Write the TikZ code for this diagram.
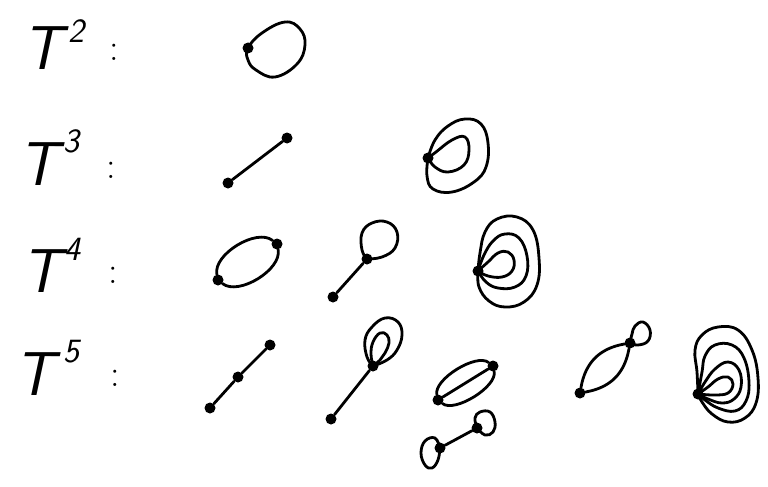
\documentclass[tikz,border=0pt]{standalone}
\usepackage{fontspec}
\begin{document}
\begin{tikzpicture}[x=1pt,y=-1pt,
  vtx/.style={circle,fill=black,inner sep=0pt,minimum size=11pt},
  edg/.style={line width=2.8pt,line cap=round,line join=round},
  lp/.style={edg,smooth,tension=0.7},
  Tlbl/.style={anchor=base,inner sep=0pt,font=\fontsize{62}{62}\selectfont\sffamily\itshape},
  sup/.style={anchor=base,inner sep=0pt,font=\fontsize{34}{34}\selectfont\sffamily\itshape},
  col/.style={anchor=base,inner sep=0pt,font=\fontsize{38}{38}\selectfont}]
\useasboundingbox (0,0) rectangle (768,487);

% labels
\node[Tlbl] (T2) at (42,70) {T};
\node[sup] (e2) at (76,43) {2};
\node[col] (c2) at (114,61) {:};
\node[Tlbl] (T3) at (38,185) {T};
\node[sup] (e3) at (71,152) {3};
\node[col] (c3) at (111,178) {:};
\node[Tlbl] (T4) at (41,292) {T};
\node[sup] (e4) at (72,260) {4};
\node[col] (c4) at (113,283) {:};
\node[Tlbl] (T5) at (34,395) {T};
\node[sup] (e5) at (71,362) {5};
\node[col] (c5) at (115,386) {:};

% T^2
\node[vtx] (v21) at (248,48) {};
\draw[edg] plot[smooth cycle,tension=0.7] coordinates {(v21.center) (262,33) (285,22) (300,29) (305,45) (297,64) (275,77) (256,70) (248,60)};

% T^3
\node[vtx] (v31) at (228,183) {};
\node[vtx] (v32) at (287,138) {};
\draw[edg] (v31) -- (v32);
\node[vtx] (v33) at (428,158) {};
\draw[lp] plot coordinates {(v33.center) (435,140) (448,126) (465,119) (481,124) (488,143) (486,167) (474,182) (452,192) (433,189) (427,176) (v33.center)};
\draw[lp] plot coordinates {(v33.center) (436,152) (452,140) (465,137) (469,150) (464,165) (448,172) (435,167) (v33.center)};

% T^4
\node[vtx] (v41) at (218,280) {};
\node[vtx] (v42) at (277,244) {};
\draw[edg] (v41) to[out=70,in=110,relative,looseness=0.8] (v42);
\draw[edg] (v41) to[out=-70,in=-110,relative,looseness=0.8] (v42);
\node[vtx] (v43) at (333,297) {};
\node[vtx] (v44) at (367,259) {};
\draw[edg] (v43) -- (v44);
\draw[lp] plot coordinates {(v44.center) (362,250) (362,233) (372,223) (387,222) (397,232) (395,248) (382,257) (v44.center)};
\node[vtx] (v45) at (478,271) {};
\draw[lp] plot coordinates {(v45.center) (480,253) (485,232) (497,219) (517,217) (533,230) (539,258) (537,285) (524,302) (505,307) (489,301) (479,287) (v45.center)};
\draw[lp] plot coordinates {(v45.center) (484,255) (493,241) (505,234) (519,238) (527,256) (526,276) (515,287) (498,288) (486,282) (v45.center)};
\draw[lp] plot coordinates {(v45.center) (488,262) (498,253) (508,252) (514,260) (512,271) (502,277) (488,276) (v45.center)};

% T^5
\node[vtx] (v51) at (210,408) {};
\node[vtx] (v52) at (238,377) {};
\node[vtx] (v53) at (270,345) {};
\draw[edg] (v51) -- (v52) -- (v53);
\node[vtx] (v54) at (331,419) {};
\node[vtx] (v55) at (373,366) {};
\draw[edg] (v54) -- (v55);
\draw[lp] plot coordinates {(v55.center) (367,357) (365,340) (372,327) (385,318) (398,322) (402,335) (397,350) (387,360) (v55.center)};
\draw[lp] plot coordinates {(v55.center) (371,354) (373,342) (380,333) (387,335) (389,343) (385,353) (380,360) (v55.center)};
\node[vtx] (v56) at (438,400) {};
\node[vtx] (v57) at (493,366) {};
\draw[edg] (v56) to[out=70,in=110,relative,looseness=0.65] (v57);
\draw[edg] (v56) -- (v57);
\draw[edg] (v56) to[out=-70,in=-110,relative,looseness=0.65] (v57);
\node[vtx] (v58) at (440,448) {};
\node[vtx] (v59) at (477,428) {};
\draw[edg] (v58) -- (v59);
\draw[lp] plot coordinates {(v58.center) (435,438) (425,441) (421,453) (425,465) (432,468) (438,460) (v58.center)};
\draw[lp] plot coordinates {(v59.center) (475,418) (480,412) (490,412) (495,422) (493,432) (485,435) (v59.center)};
\node[vtx] (v5a) at (580,393) {};
\node[vtx] (v5b) at (630,343) {};
\draw[edg] (v5a) to[bend left=35,looseness=1.05] (v5b);
\draw[edg] (v5a) to[bend right=35,looseness=1.05] (v5b);
\draw[lp] plot coordinates {(v5b.center) (632,334) (635,326) (643,322) (650,330) (648,341) (638,345) (v5b.center)};
\node[vtx] (v5c) at (698,394) {};
\draw[lp] plot coordinates {(v5c.center) (697,372) (695,350) (702,335) (718,327) (738,330) (752,350) (758,378) (756,403) (745,418) (728,422) (712,414) (702,402) (v5c.center)};
\draw[lp] plot coordinates {(v5c.center) (702,372) (705,356) (715,345) (732,345) (744,358) (749,382) (746,401) (735,411) (718,408) (705,400) (v5c.center)};
\draw[lp] plot coordinates {(v5c.center) (705,382) (715,369) (728,362) (739,370) (741,387) (734,399) (722,403) (708,399) (v5c.center)};
\draw[lp] plot coordinates {(v5c.center) (708,387) (718,379) (728,377) (733,384) (728,393) (715,395) (v5c.center)};
\end{tikzpicture}
\end{document}
